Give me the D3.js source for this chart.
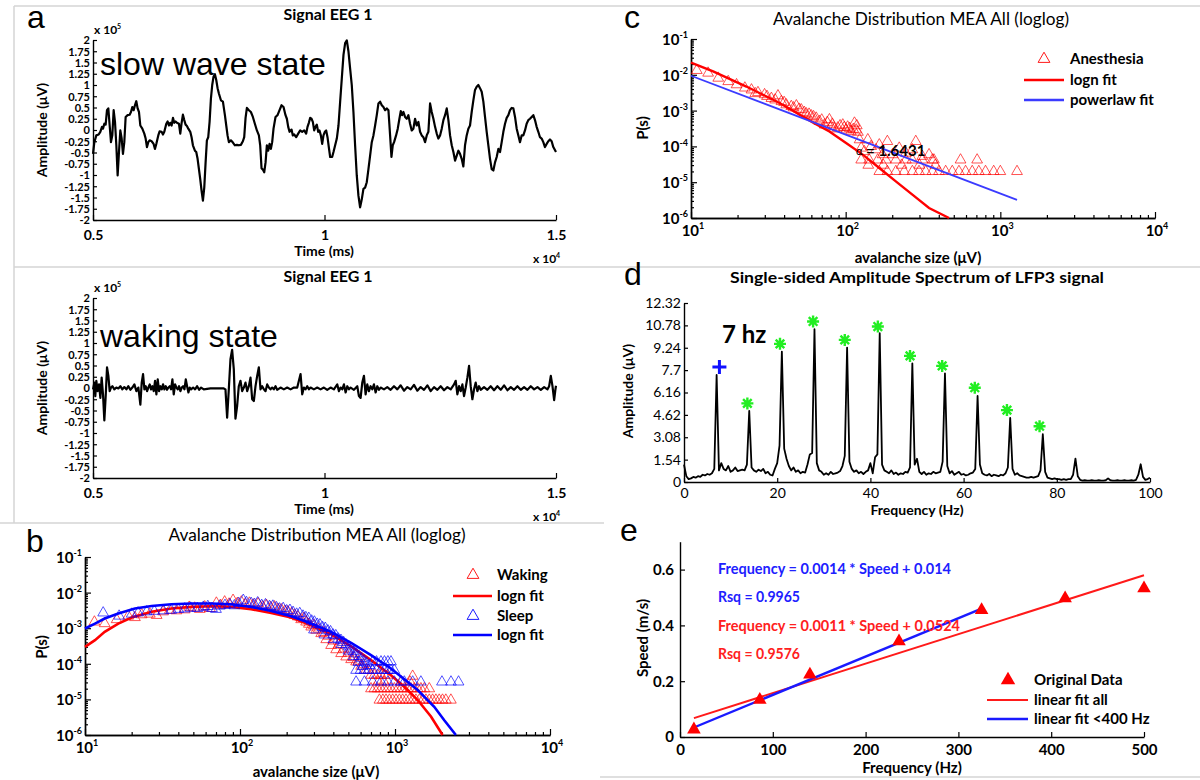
<!DOCTYPE html>
<html><head><meta charset="utf-8">
<script src="https://cdn.jsdelivr.net/npm/d3@7"></script>
<style>
body{margin:0;background:#fff;}
svg{display:block;font-family:Lato,"Open Sans",sans-serif;}
</style></head><body>
<svg id="chart" width="1200" height="780"></svg>
<script>
// ---------------- DATA ----------------
// Panel a: EEG signals, [time (ms), amplitude (x1e5 uV)]
const slowWave = [[5000,-0.53],[5029,-0.27],[5072,-0.12],[5122,-0.10],[5158,-0.04],[5194,0.07],[5216,0.03],[5245,0.14],[5273,0.12],[5302,0.44],[5331,0.48],[5360,0.10],[5388,-0.27],[5417,-0.12],[5446,0.44],[5475,0.18],[5504,-0.34],[5532,-1.01],[5561,-0.49],[5590,-0.01],[5619,-0.19],[5647,-0.53],[5676,-0.27],[5705,0.29],[5748,0.33],[5791,0.34],[5820,0.40],[5849,0.51],[5878,0.44],[5906,0.55],[5935,0.64],[5964,0.48],[5993,0.40],[6022,0.10],[6065,0.03],[6108,-0.08],[6137,-0.19],[6165,-0.38],[6194,-0.27],[6223,-0.23],[6266,-0.25],[6309,-0.31],[6338,-0.42],[6367,-0.31],[6410,-0.12],[6439,-0.03],[6482,-0.04],[6511,-0.10],[6540,-0.04],[6583,0.14],[6611,0.19],[6640,0.10],[6669,0.16],[6698,0.10],[6727,0.27],[6755,0.16],[6784,0.19],[6813,0.16],[6856,0.14],[6885,-0.08],[6914,0.16],[6942,0.34],[6971,0.22],[7000,0.12],[7029,0.09],[7058,0.03],[7101,-0.04],[7129,-0.16],[7158,-0.34],[7201,-0.46],[7230,-0.49],[7259,-0.64],[7288,-0.87],[7316,-1.09],[7345,-1.35],[7374,-1.57],[7403,-1.28],[7432,-0.72],[7460,-0.23],[7489,-0.16],[7518,0.18],[7547,0.70],[7575,1.00],[7604,1.19],[7633,1.24],[7662,1.11],[7691,0.93],[7719,0.81],[7763,0.66],[7806,0.63],[7849,0.33],[7878,0.10],[7906,-0.12],[7935,-0.27],[7978,-0.23],[8022,-0.28],[8065,-0.34],[8108,-0.33],[8151,-0.34],[8194,-0.33],[8237,-0.25],[8266,-0.16],[8295,0.27],[8324,0.49],[8367,0.44],[8410,0.40],[8453,0.29],[8496,0.14],[8540,-0.01],[8583,-0.12],[8611,-0.34],[8640,-0.85],[8669,-0.88],[8698,-0.94],[8727,-0.72],[8755,-0.34],[8784,-0.46],[8813,-0.31],[8842,-0.42],[8870,-0.27],[8899,0.03],[8942,0.29],[8986,0.33],[9029,0.44],[9072,0.55],[9115,0.51],[9158,0.33],[9187,0.25],[9216,0.07],[9245,-0.04],[9288,0.01],[9316,-0.12],[9345,-0.10],[9388,-0.16],[9432,-0.08],[9475,-0.01],[9518,-0.04],[9561,-0.01],[9604,-0.08],[9633,0.07],[9662,0.16],[9691,0.27],[9719,0.25],[9748,0.18],[9777,-0.01],[9806,0.07],[9834,0.12],[9863,-0.04],[9892,-0.01],[9921,-0.12],[9950,-0.31],[9978,-0.12],[10007,-0.04],[10036,-0.01],[10065,-0.16],[10093,-0.38],[10122,-0.60],[10165,-0.60],[10194,-0.49],[10230,-0.34],[10266,-0.19],[10302,0.10],[10338,0.63],[10374,1.15],[10410,1.67],[10446,1.93],[10482,1.99],[10517,1.75],[10553,1.37],[10589,1.00],[10625,0.40],[10661,-0.34],[10697,-1.01],[10733,-1.46],[10769,-1.72],[10805,-1.54],[10841,-1.31],[10877,-1.28],[10913,-1.16],[10949,-0.87],[10985,-0.57],[11021,-0.27],[11057,-0.12],[11093,0.10],[11129,0.33],[11165,0.59],[11201,0.63],[11237,0.55],[11273,0.51],[11309,0.44],[11345,0.48],[11381,0.44],[11417,-0.12],[11446,-0.60],[11474,-0.34],[11503,-0.27],[11546,-0.12],[11582,0.03],[11618,0.25],[11647,0.42],[11676,0.33],[11705,0.40],[11740,0.29],[11776,0.25],[11812,0.33],[11848,0.14],[11884,-0.01],[11920,0.03],[11956,0.25],[11992,0.10],[12028,0.18],[12064,-0.04],[12100,-0.12],[12136,-0.16],[12172,-0.27],[12208,-0.12],[12244,-0.04],[12280,0.59],[12316,0.40],[12352,0.25],[12388,0.07],[12424,-0.08],[12460,-0.19],[12496,-0.12],[12532,0.03],[12568,0.22],[12604,0.33],[12640,0.48],[12676,0.22],[12712,-0.12],[12748,-0.34],[12784,-0.49],[12820,-0.68],[12856,-0.57],[12892,-0.46],[12927,-0.53],[12963,-0.64],[12999,-0.81],[13035,-0.34],[13071,-0.12],[13107,0.03],[13143,0.10],[13179,0.40],[13215,0.66],[13251,0.89],[13287,0.96],[13323,1.00],[13359,0.93],[13395,0.85],[13431,0.63],[13467,0.29],[13503,-0.04],[13539,-0.34],[13575,-0.64],[13611,-0.87],[13647,-0.90],[13683,-0.72],[13719,-0.60],[13755,-0.42],[13791,-0.49],[13827,-0.27],[13863,-0.04],[13899,0.14],[13935,0.27],[13971,0.33],[14007,0.44],[14043,0.49],[14079,0.48],[14115,0.29],[14151,0.03],[14187,-0.12],[14222,-0.27],[14258,-0.12],[14294,-0.12],[14330,-0.01],[14366,0.14],[14402,0.22],[14438,0.25],[14474,0.29],[14510,0.33],[14546,0.22],[14582,0.07],[14618,-0.04],[14654,-0.16],[14690,-0.19],[14726,-0.27],[14762,-0.38],[14798,-0.31],[14834,-0.25],[14870,-0.21],[14906,-0.25],[14942,-0.38],[15000,-0.49]];

const wakingWave = [[5000,-0.03],[5029,0.12],[5050,-0.18],[5072,0.16],[5101,-0.07],[5130,0.08],[5159,-0.22],[5187,0.23],[5216,-0.14],[5245,-0.72],[5274,-0.18],[5303,0.46],[5332,0.27],[5360,-0.07],[5389,0.01],[5418,0.04],[5461,-0.03],[5504,0.01],[5548,-0.01],[5591,0.04],[5634,-0.03],[5677,0.02],[5721,-0.03],[5764,0.04],[5807,-0.04],[5850,0.01],[5894,0.08],[5937,-0.07],[5980,0.01],[6023,-0.37],[6052,0.12],[6081,0.31],[6110,-0.03],[6139,0.04],[6168,-0.07],[6196,0.01],[6225,0.08],[6254,-0.03],[6283,0.04],[6312,-0.07],[6340,0.16],[6369,-0.14],[6398,0.19],[6427,-0.07],[6456,0.04],[6485,-0.03],[6513,0.08],[6542,-0.03],[6571,0.04],[6600,-0.04],[6629,0.01],[6658,0.04],[6686,-0.03],[6715,0.19],[6744,-0.14],[6773,0.08],[6802,0.01],[6831,-0.03],[6859,0.04],[6888,-0.07],[6917,0.01],[6946,0.04],[6975,-0.03],[7004,0.19],[7032,0.04],[7061,-0.10],[7090,0.01],[7119,-0.03],[7162,0.01],[7205,-0.03],[7249,0.04],[7292,-0.04],[7335,0.01],[7393,-0.03],[7537,-0.01],[7681,-0.01],[7825,-0.01],[7861,-0.03],[7897,-0.66],[7933,-0.03],[7969,0.64],[8005,0.85],[8041,0.42],[8077,-0.68],[8113,-0.40],[8149,0.04],[8185,0.16],[8222,-0.07],[8258,0.01],[8294,0.12],[8330,-0.07],[8366,0.04],[8402,0.23],[8438,-0.25],[8474,-0.29],[8510,0.04],[8546,0.27],[8582,0.46],[8618,-0.03],[8654,0.04],[8690,-0.03],[8726,-0.07],[8762,0.08],[8798,0.01],[8834,-0.03],[8870,0.01],[8906,-0.03],[8942,0.04],[8978,-0.04],[9050,0.01],[9122,-0.03],[9194,0.01],[9267,-0.03],[9339,0.01],[9411,0.01],[9447,0.16],[9483,0.31],[9519,-0.14],[9555,0.01],[9591,-0.03],[9627,0.04],[9663,-0.03],[9699,0.01],[9771,-0.03],[9843,0.01],[9915,-0.03],[9987,0.01],[10059,-0.04],[10131,0.01],[10203,-0.03],[10276,0.08],[10312,-0.07],[10348,0.01],[10384,-0.03],[10420,0.08],[10456,-0.10],[10492,0.04],[10528,-0.03],[10564,0.01],[10636,-0.04],[10708,0.04],[10744,-0.18],[10780,-0.22],[10816,0.12],[10852,0.27],[10888,-0.14],[10924,0.08],[10960,-0.07],[10996,0.04],[11032,-0.03],[11068,0.08],[11104,-0.10],[11140,0.04],[11176,-0.04],[11212,0.01],[11284,-0.03],[11356,0.02],[11428,-0.04],[11501,0.04],[11573,-0.03],[11645,0.06],[11717,-0.06],[11789,0.02],[11861,-0.03],[11933,0.07],[12005,-0.06],[12077,0.02],[12149,-0.04],[12222,0.06],[12294,-0.07],[12366,0.02],[12438,-0.04],[12510,0.04],[12582,-0.05],[12654,0.02],[12726,-0.03],[12798,0.08],[12834,0.16],[12870,-0.14],[12906,0.04],[12942,-0.07],[12978,0.08],[13014,-0.18],[13050,0.01],[13086,0.23],[13122,0.49],[13158,0.04],[13194,-0.25],[13230,-0.03],[13266,0.12],[13302,-0.07],[13338,0.04],[13374,-0.04],[13446,0.02],[13518,-0.04],[13590,0.04],[13662,-0.05],[13734,0.04],[13807,-0.04],[13879,0.06],[13951,-0.05],[14023,0.02],[14095,-0.04],[14167,0.04],[14239,-0.04],[14311,0.02],[14383,-0.04],[14455,0.04],[14527,-0.03],[14600,0.02],[14672,-0.04],[14744,0.02],[14816,-0.03],[14852,0.04],[14888,0.27],[14924,0.04],[14960,-0.27],[14985,-0.05],[15000,0.05]];

const ampTicks = [2,1.75,1.5,1.25,1,0.75,0.5,0.25,0,-0.25,-0.5,-0.75,-1,-1.25,-1.5,-1.75,-2];
const timeTicks = [5000,10000,15000];

// Panel b: avalanche size distributions [size (uV), P(s)]
const wakingPts = [[11.5,1.5e-3],[13.4,1.35e-3],[16,1.75e-3],[19,2.2e-3],[21,2.0e-3],[23.2,2.4e-3],[26.2,2.5e-3],[29,2.3e-3],[31.9,2.9e-3],[35.2,3.2e-3],[38.9,3.1e-3],[44,3.3e-3],[47,3.9e-3],[51,3.7e-3],[55,3.4e-3],[59.2,4.0e-3],[64,3.6e-3],[70.4,5.1e-3],[75,4.4e-3],[79.6,5.5e-3],[85,4.8e-3],[90.2,6.1e-3],[96,5.0e-3],[102,5.5e-3],[108,4.6e-3],[115,5.1e-3],[122,4.5e-3],[131,4.9e-3],[140,4.0e-3],[148,4.4e-3],[158,3.8e-3],[167,4.0e-3],[176,3.4e-3],[185,3.3e-3],[195,3.0e-3],[204,2.9e-3],[215,2.6e-3],[225,2.3e-3],[236,2.1e-3],[248,1.75e-3],[258,1.9e-3],[267,1.5e-3],[278,1.3e-3],[288,1.09e-3],[299,1.2e-3],[310,8.8e-4],[322,9.5e-4],[334,7.1e-4],[347,7.6e-4],[360,4.8e-4],[373,6.0e-4],[387,3.3e-4],[400,4.4e-4],[417,2.5e-4],[432,3.4e-4],[449,1.95e-4],[466,2.6e-4],[484,1.57e-4],[502,2.0e-4],[521,1.32e-4],[541,1.5e-4],[561,1.14e-4],[582,1.2e-4],[604,8.6e-5],[627,9.5e-5],[651,6.6e-5],[675,6.6e-5],[700,4.8e-5],[736,4.8e-5],[773,4.8e-5],[812,4.8e-5],[853,4.8e-5],[897,4.8e-5],[1300,4.5e-5],[780,3.1e-5],[850,3.1e-5],[1100,3.1e-5],[1250,3.1e-5],[700,2.0e-5],[736,2.0e-5],[773,2.0e-5],[812,2.0e-5],[853,2.0e-5],[897,2.0e-5],[942,2.0e-5],[990,2.0e-5],[1040,2.0e-5],[1093,2.0e-5],[1148,2.0e-5],[1206,2.0e-5],[1268,2.0e-5],[1332,2.0e-5],[1400,2.0e-5],[1470,2.0e-5],[1545,2.0e-5],[1664,2.0e-5],[793,9.6e-6],[835,9.6e-6],[875,9.6e-6],[920,9.6e-6],[966,9.6e-6],[1015,9.6e-6],[1067,9.6e-6],[1120,9.6e-6],[1177,9.6e-6],[1237,9.6e-6],[1300,9.6e-6],[1365,9.6e-6],[1435,9.6e-6],[1508,9.6e-6],[1584,9.6e-6],[1664,9.6e-6],[1748,9.6e-6],[1836,9.6e-6],[1928,9.6e-6],[2025,9.6e-6],[2128,9.6e-6],[2294,9.6e-6]];
const sleepPts = [[13.1,2.7e-3],[16.6,2.2e-3],[20,2.5e-3],[22,2.7e-3],[25,2.9e-3],[28,3.0e-3],[32,3.1e-3],[36,3.2e-3],[40,3.4e-3],[44,3.5e-3],[48,3.7e-3],[53,3.6e-3],[58,3.9e-3],[62,4.1e-3],[66,3.6e-3],[70,3.4e-3],[74,4.2e-3],[80,4.4e-3],[86,4.6e-3],[92,4.3e-3],[98,5.0e-3],[105,6.1e-3],[110,5.3e-3],[118,5.0e-3],[124,4.7e-3],[130,5.2e-3],[138,4.4e-3],[146,4.6e-3],[155,4.1e-3],[163,4.2e-3],[172,3.8e-3],[180,3.5e-3],[190,3.6e-3],[200,3.1e-3],[210,3.2e-3],[220,2.8e-3],[232,2.5e-3],[243,2.6e-3],[255,2.2e-3],[266,2.0e-3],[278,1.9e-3],[290,1.6e-3],[302,1.5e-3],[315,1.3e-3],[328,1.25e-3],[341,1.05e-3],[355,1.0e-3],[369,8.5e-4],[384,8.0e-4],[399,6.5e-4],[415,6.2e-4],[431,5.0e-4],[448,4.6e-4],[466,4.0e-4],[484,3.4e-4],[503,3.0e-4],[523,2.6e-4],[543,2.2e-4],[564,1.9e-4],[586,1.6e-4],[609,1.4e-4],[633,1.2e-4],[657,1.05e-4],[683,9.0e-5],[300,9.0e-4],[350,6.5e-4],[400,4.8e-4],[450,3.5e-4],[500,2.3e-4],[540,1.6e-4],[580,1.1e-4],[620,8.5e-5],[718,1.14e-4],[760,1.14e-4],[812,1.14e-4],[855,1.14e-4],[900,1.14e-4],[942,1.14e-4],[561,6.6e-5],[600,6.6e-5],[635,6.6e-5],[676,6.6e-5],[718,6.6e-5],[760,6.6e-5],[812,6.6e-5],[855,6.6e-5],[900,6.6e-5],[942,6.6e-5],[990,6.6e-5],[561,3.1e-5],[635,3.1e-5],[718,3.1e-5],[812,3.1e-5],[900,3.1e-5],[990,3.1e-5],[1090,3.1e-5],[1148,3.1e-5],[1300,3.1e-5],[1469,3.1e-5],[2009,3.1e-5],[2297,3.1e-5],[2570,3.1e-5]];
const wakingFit = [[10,3.0e-4],[11.6,4.6e-4],[13.4,7.9e-4],[16.4,1.35e-3],[20,2.0e-3],[26.9,2.9e-3],[36.1,3.56e-3],[48.6,3.97e-3],[65.3,4.14e-3],[87.9,3.97e-3],[118,3.41e-3],[159,2.69e-3],[214,2.0e-3],[288,1.21e-3],[387,6.8e-4],[521,3.1e-4],[700,1.27e-4],[942,4.8e-5],[1148,2.27e-5],[1400,9.6e-6],[1706,3.3e-6],[2028,1.0e-6]];
const sleepFit = [[10,9.8e-4],[11.6,1.35e-3],[13.4,1.87e-3],[16.4,2.58e-3],[21,3.56e-3],[26.9,4.22e-3],[36.1,4.71e-3],[48.6,4.92e-3],[65.3,4.92e-3],[87.9,4.71e-3],[118,3.96e-3],[159,3.06e-3],[214,2.17e-3],[288,1.35e-3],[387,7.9e-4],[521,3.9e-4],[700,1.75e-4],[942,7.4e-5],[1148,3.7e-5],[1400,1.83e-5],[1791,6.2e-6],[2079,2.6e-6],[2471,1.0e-6]];

// Panel c: anesthesia
const anesthesiaPts = [[10.9,1.33e-2],[12.9,1.12e-2],[15.0,8.1e-3],[17.4,6.5e-3],[19.7,5.3e-3],[22.3,4.3e-3],[24.6,3.8e-3],[27.1,3.2e-3],[29.9,2.8e-3],[33.1,2.2e-3],[36.5,2.6e-3],[38.4,1.8e-3],[41.3,1.46e-3],[44.5,1.31e-3],[48,1.37e-3],[51.6,1.06e-3],[55.6,8.2e-4],[59.9,7.2e-4],[64.5,6.2e-4],[67.7,5.0e-4],[73,4.0e-4],[78.5,5.6e-4],[80.5,3.6e-4],[84.6,3.1e-4],[88.9,3.3e-4],[95.8,4.0e-4],[100.6,2.9e-4],[103,3.5e-4],[108,2.6e-4],[114,4.5e-4],[117,2.9e-4],[123,1.54e-4],[126,9e-5],[132,7.2e-5],[139,1.54e-4],[146,1.0e-4],[157,8.1e-5],[165,1.11e-4],[173,5.9e-5],[186,1.38e-4],[201,5.9e-5],[222,9e-5],[245,6.5e-5],[270,8.1e-5],[284,1.38e-4],[313,5.3e-5],[346,5.9e-5],[372,4.2e-5],[26,3.0e-3],[31,2.5e-3],[35,2.0e-3],[40,1.7e-3],[46,1.2e-3],[50,1.1e-3],[54,9e-4],[58,8e-4],[62,6.8e-4],[70,5.5e-4],[76,4.7e-4],[82,4.2e-4],[92,3.8e-4],[98,3.4e-4],[106,3.2e-4],[112,3.0e-4],[120,2.5e-4],[118,3.8e-4],[165,2.0e-5],[186,2.0e-5],[211,2.0e-5],[239,2.0e-5],[270,2.0e-5],[298,2.0e-5],[329,2.0e-5],[364,2.0e-5],[401,2.0e-5],[443,2.0e-5],[489,2.0e-5],[540,2.0e-5],[596,2.0e-5],[658,2.0e-5],[726,2.0e-5],[802,2.0e-5],[906,2.0e-5],[1000,2.0e-5],[1282,2.0e-5],[126,4.2e-5],[142,4.2e-5],[161,4.2e-5],[182,4.2e-5],[211,4.2e-5],[245,4.2e-5],[270,4.2e-5],[313,4.2e-5],[364,4.2e-5],[553,4.2e-5],[708,4.2e-5],[140,3.0e-5],[175,3.0e-5],[230,3.0e-5],[300,3.0e-5],[380,3.0e-5]];
const anesthesiaLognFit = [[10,2.2e-2],[13.9,1.24e-2],[22.8,4.7e-3],[37.4,1.63e-3],[61.3,4.7e-4],[78.5,2.6e-4],[100.6,1.24e-4],[129,5.9e-5],[165,2.5e-5],[211,1.05e-5],[270,4.5e-6],[346,1.9e-6],[466,1.0e-6]];
const anesthesiaPowerFit = [[10,9.4e-3],[1282,3.2e-6]];
const decadeExps = [1,2,3,4];
const probExps = [-1,-2,-3,-4,-5,-6];

// Panel d: spectrum, amplitude (uV) at 0,0.5,...,100 Hz
const spectrumAmp = [1.2,0.4,0.2,0.25,0.35,0.3,0.4,0.35,0.5,0.45,0.55,0.5,0.6,0.9,7.37,0.8,1.3,0.9,0.8,1.1,0.7,0.8,1.0,0.75,0.8,0.85,0.8,1.2,4.9,1.0,0.8,0.7,0.85,0.75,0.9,0.6,0.7,0.5,0.45,0.9,1.3,2.5,8.98,2.3,1.6,1.1,0.8,1.0,0.7,0.8,0.6,0.7,0.65,1.2,1.9,2.0,10.52,1.3,0.8,0.7,0.5,0.6,0.5,0.7,0.55,0.6,0.65,0.75,1.1,1.8,9.25,1.4,0.9,0.7,0.8,0.6,0.7,0.55,0.7,0.8,1.3,0.6,1.7,1.9,10.24,1.2,0.8,0.7,0.6,0.8,0.55,0.65,0.5,0.6,0.55,0.7,0.65,1.0,8.17,1.2,1.6,0.7,0.55,0.7,0.5,0.6,0.55,0.7,0.6,0.65,0.7,1.4,7.48,1.1,0.6,0.75,0.5,0.6,0.7,0.5,0.55,0.45,0.5,0.6,0.65,0.9,5.92,1.2,0.6,0.5,0.45,0.55,0.4,0.5,0.45,0.4,0.5,0.45,0.6,1.0,4.42,0.9,0.5,0.6,0.45,0.4,0.35,0.3,0.3,0.35,0.3,0.35,0.4,0.8,3.29,0.7,0.3,0.25,0.2,0.25,0.2,0.2,0.15,0.2,0.15,0.2,0.2,0.5,1.61,0.4,0.15,0.1,0.12,0.1,0.1,0.12,0.1,0.1,0.12,0.1,0.1,0.12,0.25,0.12,0.1,0.1,0.12,0.1,0.1,0.12,0.1,0.1,0.12,0.1,0.15,0.5,1.22,0.35,0.15,0.2,0.3];
const spectrumStep = 0.5;
const fundamentalMark = [7.6,7.92];
const harmonicMarks = [[13.6,5.41],[20.6,9.51],[27.7,11.05],[34.5,9.78],[41.6,10.70],[48.5,8.68],[55.4,7.99],[62.4,6.49],[69.3,4.95],[76.3,3.84]];
const specYTicks = [0,1.54,3.08,4.62,6.16,7.7,9.24,10.78,12.32];
const specXTicks = [0,20,40,60,80,100];

// Panel e: speed vs frequency
const freqHz = [15,86,140,236,325,415,500];
const speedMs = [0.027,0.133,0.224,0.343,0.455,0.497,0.533];
const fitAll = [[15,0.0675],[500,0.58]];
const fitLow = [[15,0.034],[325,0.46]];
const eXTicks = [0,100,200,300,400,500];
const eYTicks = [0,0.2,0.4,0.6];

// ---------------- DRAWING ----------------
const svg = d3.select('#chart');
const RED = '#ff0000', BLUE = '#0000ff';

// panel frame lines
const sep = svg.append('g').attr('stroke','#d4d4d4').attr('stroke-width',1.5);
[[14,6,1200,6],[14,6,14,523],[14,267,1200,267],[0,523,604,523],[600,777,1200,777]].forEach(l=>{
  sep.append('line').attr('x1',l[0]).attr('y1',l[1]).attr('x2',l[2]).attr('y2',l[3]);
});

function styleAxis(g, size, weight){
  g.attr('font-family','Lato, sans-serif').attr('font-size',size).attr('font-weight',weight);
  g.select('.domain').attr('stroke','#000').attr('stroke-width',1.4);
  g.selectAll('.tick line').attr('stroke','#000').attr('stroke-width',1.2);
  g.selectAll('.tick text').attr('fill','#000');
}
function txt(x,y,s,opt){
  opt = opt||{};
  const t = svg.append('text').attr('x',x).attr('y',y).text(s)
    .attr('font-size',opt.size||14).attr('font-weight',opt.weight||'bold')
    .attr('text-anchor',opt.anchor||'start').attr('fill',opt.fill||'#000');
  if(opt.family) t.attr('font-family',opt.family);
  if(opt.rotate) t.attr('transform',`rotate(-90,${x},${y})`);
  if(opt.len) t.attr('textLength',opt.len).attr('lengthAdjust','spacingAndGlyphs');
  return t;
}
function sciLabel(x,y,base,exp,opt){
  const t = svg.append('text').attr('x',x).attr('y',y).attr('text-anchor',opt.anchor)
    .attr('font-size',opt.size).attr('font-weight',opt.weight||'bold');
  t.append('tspan').text(base);
  t.append('tspan').attr('dy',-opt.size*0.45).attr('font-size',Math.round(opt.size*0.62)).text(exp);
  return t;
}

// ---- Panel a ----
function eegPanel(data, top, bottom, title, titleY, stateText, stateY){
  const x = d3.scaleLinear().domain([5000,15000]).range([93,556]);
  const y = d3.scaleLinear().domain([-2,2]).range([bottom, top]);
  const ya = svg.append('g').attr('transform','translate(93,0)')
    .call(d3.axisLeft(y).tickValues(ampTicks).tickSize(-4).tickSizeOuter(0).tickPadding(3).tickFormat(d=>String(d)));
  styleAxis(ya,11,'bold');
  ya.selectAll('.tick text').attr('dy','0.36em');
  const xa = svg.append('g').attr('transform',`translate(0,${bottom})`)
    .call(d3.axisBottom(x).tickValues(timeTicks).tickSize(-5).tickSizeOuter(0).tickPadding(10).tickFormat(d=>String(d/1e4)));
  styleAxis(xa,14,'bold');
  svg.append('path').datum(data)
    .attr('d', d3.line().x(d=>x(d[0])).y(d=>y(d[1])))
    .attr('fill','none').attr('stroke','#000').attr('stroke-width',2.2).attr('stroke-linejoin','round');
  txt(328,titleY,title,{size:16,anchor:'middle'});
  sciLabel(94,top-6,'x 10','5',{anchor:'start',size:12});
  txt(324,bottom+36,'Time (ms)',{size:14,anchor:'middle'});
  sciLabel(533,bottom+43,'x 10','4',{anchor:'start',size:12});
  txt(47,(top+bottom)/2,'Amplitude (\u03bcV)',{size:14,anchor:'middle',rotate:true});
  txt(100,stateY,stateText,{size:32,weight:'normal',family:'"Liberation Sans", Arial, sans-serif'});
}
eegPanel(slowWave, 40, 220, 'Signal EEG 1', 20, 'slow wave state', 75);
eegPanel(wakingWave, 298, 478, 'Signal EEG 1', 282, 'waking state', 347);
txt(27,28,'a',{size:32,weight:'normal',family:'"Liberation Sans", Arial, sans-serif'});

// ---- log-log panels ----
function logPanel(cfg){
  const x = d3.scaleLog().domain([10,1e4]).range([cfg.x0,cfg.x1]);
  const y = d3.scaleLog().domain([1e-6,1e-1]).range([cfg.y1,cfg.y0]);
  const g = svg.append('g');
  const xMinor = x.ticks().filter(v=>{const l=Math.log10(v);return Math.abs(l-Math.round(l))>1e-6;});
  const yMinor = y.ticks().filter(v=>{const l=Math.log10(v);return Math.abs(l-Math.round(l))>1e-6;});
  const xa = g.append('g').attr('transform',`translate(0,${cfg.y1})`)
    .call(d3.axisBottom(x).tickValues(xMinor).tickSize(-3).tickSizeOuter(0).tickFormat(''));
  styleAxis(xa,12,'bold');
  const xa2 = g.append('g').attr('transform',`translate(0,${cfg.y1})`)
    .call(d3.axisBottom(x).tickValues(decadeExps.map(e=>Math.pow(10,e))).tickSize(-6).tickSizeOuter(0).tickFormat(''));
  styleAxis(xa2,12,'bold');
  const ya = g.append('g').attr('transform',`translate(${cfg.x0},0)`)
    .call(d3.axisLeft(y).tickValues(yMinor).tickSize(-3).tickSizeOuter(0).tickFormat(''));
  styleAxis(ya,12,'bold');
  const ya2 = g.append('g').attr('transform',`translate(${cfg.x0},0)`)
    .call(d3.axisLeft(y).tickValues(probExps.map(e=>Math.pow(10,e))).tickSize(-6).tickSizeOuter(0).tickFormat(''));
  styleAxis(ya2,12,'bold');
  decadeExps.forEach(e=>sciLabel(x(Math.pow(10,e))+2, cfg.y1+18,'10',String(e),{anchor:'middle',size:15}));
  probExps.forEach(e=>sciLabel(cfg.x0-3, y(Math.pow(10,e))+6,'10',String(e),{anchor:'end',size:15}));
  return {x,y};
}
function triangles(data, s, color, size){
  svg.append('g').selectAll('path').data(data).join('path')
    .attr('d', d3.symbol().type(d3.symbolTriangle).size(size))
    .attr('transform', d=>`translate(${s.x(d[0])},${s.y(d[1])})`)
    .attr('fill','none').attr('stroke',color).attr('stroke-width',0.9).attr('stroke-opacity',0.75);
}
function fitLine(data, s, color, w){
  svg.append('path').datum(data)
    .attr('d', d3.line().x(d=>s.x(d[0])).y(d=>s.y(d[1])))
    .attr('fill','none').attr('stroke',color).attr('stroke-width',w);
}

// Panel b
const sb = logPanel({x0:85,x1:550,y0:557,y1:735});
triangles(wakingPts, sb, RED, 50);
fitLine(wakingFit, sb, RED, 2.6);
triangles(sleepPts, sb, BLUE, 50);
fitLine(sleepFit, sb, BLUE, 2.6);
txt(317,541,'Avalanche Distribution MEA All (loglog)',{size:17,weight:'normal',anchor:'middle',len:297});
txt(47,647,'P(s)',{size:15,anchor:'middle',rotate:true});
txt(316,777,'avalanche size (\u03bcV)',{size:15,anchor:'middle'});
txt(26,552,'b',{size:32,weight:'normal',family:'"Liberation Sans", Arial, sans-serif'});
[[575,'Waking','tri',RED],[596,'logn fit','line',RED],[616,'Sleep','tri',BLUE],[635,'logn fit','line',BLUE]].forEach(r=>{
  if(r[2]==='tri') svg.append('path').attr('d',d3.symbol().type(d3.symbolTriangle).size(60)).attr('transform',`translate(473,${r[0]})`).attr('fill','none').attr('stroke',r[3]).attr('stroke-width',0.9);
  else svg.append('line').attr('x1',453).attr('x2',492).attr('y1',r[0]).attr('y2',r[0]).attr('stroke',r[3]).attr('stroke-width',2.6);
  txt(497,r[0]+5,r[1],{size:15});
});

// Panel c
const sc = logPanel({x0:691,x1:1155,y0:39,y1:218});
triangles(anesthesiaPts, sc, RED, 50);
fitLine(anesthesiaLognFit, sc, RED, 2.4);
fitLine(anesthesiaPowerFit, sc, '#3b3bff', 1.8);
txt(921,25,'Avalanche Distribution MEA All (loglog)',{size:17,weight:'normal',anchor:'middle',len:296});
txt(648,128,'P(s)',{size:15,anchor:'middle',rotate:true});
txt(918,263,'avalanche size (\u03bcV)',{size:15,anchor:'middle'});
txt(624,28,'c',{size:32,weight:'normal',family:'"Liberation Sans", Arial, sans-serif'});
txt(856,155,'\u03b1',{size:11,weight:'normal'});
txt(866,156,'= 1.6431',{size:15});
[[59,'Anesthesia','tri',RED],[80,'logn fit','line',RED],[100,'powerlaw fit','line','#3b3bff']].forEach(r=>{
  if(r[2]==='tri') svg.append('path').attr('d',d3.symbol().type(d3.symbolTriangle).size(60)).attr('transform',`translate(1044,${r[0]})`).attr('fill','none').attr('stroke',r[3]).attr('stroke-width',0.9);
  else svg.append('line').attr('x1',1024).attr('x2',1064).attr('y1',r[0]).attr('y2',r[0]).attr('stroke',r[3]).attr('stroke-width',2.4);
  txt(1070,r[0]+5,r[1],{size:15});
});

// ---- Panel d ----
(function(){
  const x = d3.scaleLinear().domain([0,100]).range([684,1150]);
  const y = d3.scaleLinear().domain([0,12.32]).range([482,303]);
  const ya = svg.append('g').attr('transform','translate(684,0)')
    .call(d3.axisLeft(y).tickValues(specYTicks).tickSize(-4).tickSizeOuter(0).tickPadding(3).tickFormat(d=>String(d)));
  styleAxis(ya,14,'normal');
  const xa = svg.append('g').attr('transform','translate(0,482)')
    .call(d3.axisBottom(x).tickValues(specXTicks).tickSize(-4).tickSizeOuter(0).tickPadding(6).tickFormat(d=>String(d)));
  styleAxis(xa,14,'normal');
  svg.append('path').datum(spectrumAmp)
    .attr('d', d3.line().x((d,i)=>x(i*spectrumStep)).y(d=>y(d)))
    .attr('fill','none').attr('stroke','#000').attr('stroke-width',1.8).attr('stroke-linejoin','round');
  svg.append('path').attr('d','M-7,0H7M0,-7V7')
    .attr('transform',`translate(${x(fundamentalMark[0])},${y(fundamentalMark[1])})`)
    .attr('stroke','#1010ff').attr('stroke-width',3);
  svg.append('g').selectAll('path').data(harmonicMarks).join('path')
    .attr('d','M-6,0H6M0,-6V6M-4.3,-4.3L4.3,4.3M-4.3,4.3L4.3,-4.3')
    .attr('transform',d=>`translate(${x(d[0])},${y(d[1])})`)
    .attr('stroke','#22ee22').attr('stroke-width',2.4);
  txt(917,283,'Single-sided Amplitude Spectrum of LFP3 signal',{size:16,anchor:'middle',len:374});
  txt(633,391,'Amplitude (\u03bcV)',{size:14,anchor:'middle',rotate:true});
  txt(917,515,'Frequency (Hz)',{size:14,anchor:'middle'});
  txt(722,343,'7 hz',{size:24});
  txt(624,285,'d',{size:32,weight:'normal',family:'"Liberation Sans", Arial, sans-serif'});
})();

// ---- Panel e ----
(function(){
  const x = d3.scaleLinear().domain([0,500]).range([680,1144]);
  const y = d3.scaleLinear().domain([0,0.7]).range([737,541.7]);
  const ya = svg.append('g').attr('transform','translate(680,0)')
    .call(d3.axisLeft(y).tickValues(eYTicks).tickSize(-5).tickSizeOuter(0).tickPadding(6).tickFormat(d=>String(d)));
  styleAxis(ya,15,'bold');
  const xa = svg.append('g').attr('transform','translate(0,737)')
    .call(d3.axisBottom(x).tickValues(eXTicks).tickSize(-5).tickSizeOuter(0).tickPadding(7).tickFormat(d=>String(d)));
  styleAxis(xa,15,'bold');
  const line = d3.line().x(d=>x(d[0])).y(d=>y(d[1]));
  svg.append('path').datum(fitAll).attr('d',line).attr('stroke','#ff1a1a').attr('stroke-width',2).attr('fill','none');
  svg.append('path').datum(fitLow).attr('d',line).attr('stroke','#1a1aff').attr('stroke-width',2.4).attr('fill','none');
  svg.append('g').selectAll('path').data(freqHz).join('path')
    .attr('d', d3.symbol().type(d3.symbolTriangle).size(80))
    .attr('transform',(d,i)=>`translate(${x(d)},${y(speedMs[i])})`)
    .attr('fill','#ff0000');
  txt(718,574,'Frequency = 0.0014 * Speed + 0.014',{size:15,fill:'#2020ff',len:233});
  txt(718,602,'Rsq = 0.9965',{size:15,fill:'#2020ff',len:82});
  txt(718,631,'Frequency = 0.0011 * Speed + 0.0524',{size:15,fill:'#ff2020',len:242});
  txt(718,659,'Rsq = 0.9576',{size:15,fill:'#ff2020',len:82});
  txt(648,638,'Speed (m/s)',{size:15,anchor:'middle',rotate:true});
  txt(912,773,'Frequency (Hz)',{size:15,anchor:'middle'});
  txt(620,541,'e',{size:32,weight:'normal',family:'"Liberation Sans", Arial, sans-serif'});
  svg.append('path').attr('d',d3.symbol().type(d3.symbolTriangle).size(90)).attr('transform','translate(1008,680)').attr('fill','#ff0000');
  svg.append('line').attr('x1',987).attr('x2',1028).attr('y1',700).attr('y2',700).attr('stroke','#ff1a1a').attr('stroke-width',2);
  svg.append('line').attr('x1',987).attr('x2',1028).attr('y1',719).attr('y2',719).attr('stroke','#1a1aff').attr('stroke-width',2.4);
  txt(1034,685,'Original Data',{size:15});
  txt(1034,705,'linear fit all',{size:15});
  txt(1034,724,'linear fit <400 Hz',{size:15});
})();
</script>
</body></html>
